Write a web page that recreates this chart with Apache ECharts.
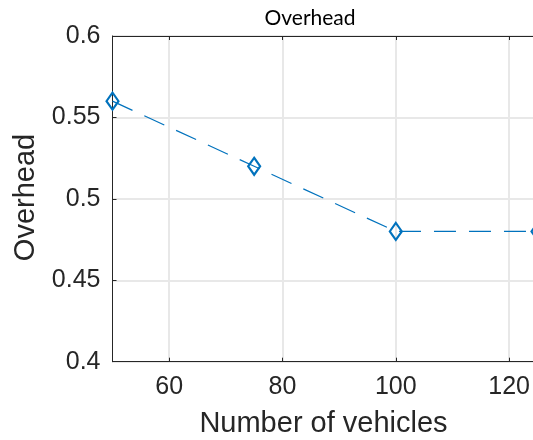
<!DOCTYPE html>
<html>
<head>
<meta charset="utf-8">
<script src="https://cdn.jsdelivr.net/npm/echarts@6/dist/echarts.min.js"></script>
<style>
html,body{margin:0;padding:0;background:#fff;}
#c{width:533px;height:440px;}
</style>
</head>
<body>
<div id="c"></div>
<script>
var vehicles = [50, 75, 100, 125];
var overhead = [0.56, 0.52, 0.48, 0.48];
var xTicks = [60, 80, 100, 120];
var yTicks = [0.4, 0.45, 0.5, 0.55, 0.6];
var titleText = 'Overhead';
var xName = 'Number of vehicles';
var yName = 'Overhead';

var chart = echarts.init(document.getElementById('c'), null, {renderer: 'canvas'});
var axisColor = '#262626';
var gridColor = '#e8e8e8';
var fontFam = '"Liberation Sans", Arial, sans-serif';

var option = {
  animation: false,
  backgroundColor: '#fff',
  grid: {left: 112.5, top: 36, width: 453.3, height: 325.7, containLabel: false, outerBoundsMode: 'none',
    show: true, borderColor: axisColor, borderWidth: 1, backgroundColor: '#fff'},
  xAxis: [{
    type: 'value', min: 50, max: 130, position: 'bottom',
    axisLine: {show: true, onZero: false, lineStyle: {color: axisColor, width: 1}},
    axisTick: {show: true, inside: true, length: 4, customValues: xTicks, lineStyle: {color: axisColor}},
    axisLabel: {show: true, customValues: xTicks, margin: 13, fontSize: 25, color: axisColor, fontFamily: fontFam},
    splitLine: {show: true, lineStyle: {color: gridColor, width: 2}}
  }, {
    type: 'value', min: 50, max: 130, position: 'top',
    axisLine: {show: true, onZero: false, lineStyle: {color: axisColor, width: 1}},
    axisTick: {show: true, inside: true, length: 4, customValues: xTicks, lineStyle: {color: axisColor}},
    axisLabel: {show: false},
    splitLine: {show: false}
  }],
  yAxis: [{
    type: 'value', min: 0.4, max: 0.6, interval: 0.05,
    axisLine: {show: true, onZero: false, lineStyle: {color: axisColor, width: 1}},
    axisTick: {show: true, inside: true, length: 4, customValues: yTicks, lineStyle: {color: axisColor}},
    axisLabel: {show: true, customValues: yTicks, margin: 12, fontSize: 25, color: axisColor, fontFamily: fontFam,
      formatter: function (v) { return String(+v.toFixed(2)); }},
    splitLine: {show: true, lineStyle: {color: gridColor, width: 2}}
  }],
  series: [{
    type: 'line',
    xAxisIndex: 0,
    data: vehicles.map(function (v, i) { return [v, overhead[i]]; }),
    symbol: 'diamond',
    symbolSize: [12, 17],
    showAllSymbol: true,
    clip: false,
    lineStyle: {color: '#0072BD', width: 1.2, type: [22, 13]},
    itemStyle: {color: 'rgba(0,0,0,0)', borderColor: '#0072BD', borderWidth: 2.2}
  }],
  graphic: [
    {type: 'text', x: 310, y: 18.5, style: {text: titleText, font: '21px Lato, sans-serif', fill: '#000', textAlign: 'center', textVerticalAlign: 'middle'}},
    {type: 'text', x: 323.5, y: 424, style: {text: xName, font: '29px "Liberation Sans", Arial, sans-serif', fill: axisColor, textAlign: 'center', textVerticalAlign: 'middle'}},
    {type: 'text', x: 26, y: 197.5, rotation: Math.PI / 2, style: {text: yName, font: '29px "Liberation Sans", Arial, sans-serif', fill: axisColor, textAlign: 'center', textVerticalAlign: 'middle'}}
  ]
};
chart.setOption(option);
</script>
</body>
</html>
